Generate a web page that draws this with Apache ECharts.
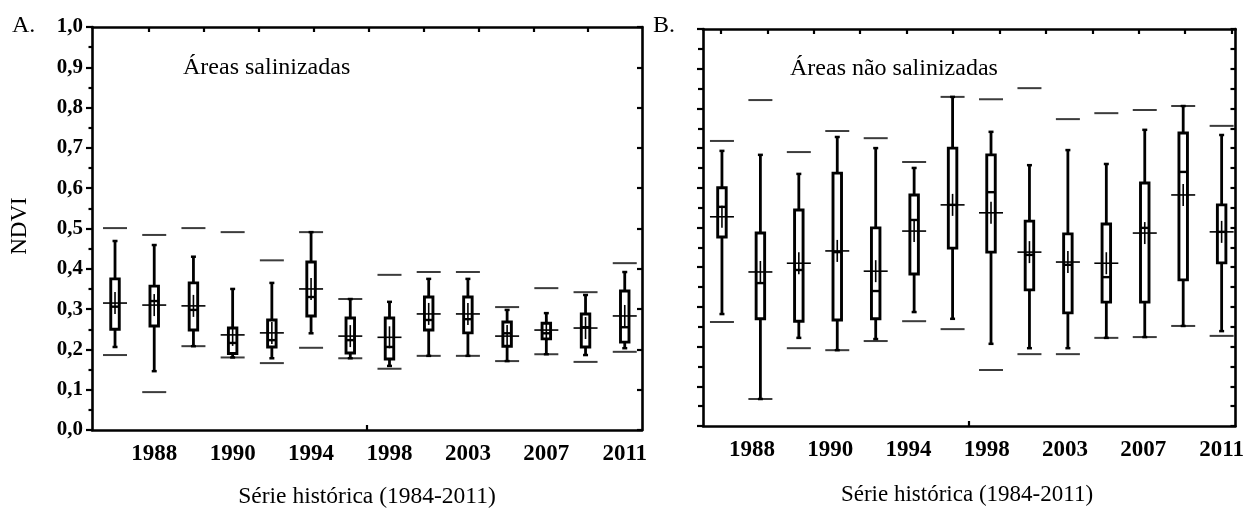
<!DOCTYPE html>
<html><head><meta charset="utf-8">
<script src="https://cdn.jsdelivr.net/npm/echarts@6/dist/echarts.min.js"></script>
<style>html,body{margin:0;padding:0;background:#fff}#c{width:1247px;height:509px}</style>
</head><body><div id="c"></div>
<script>
// Categories (years; only every other one is labelled in the figure)
const categories = ['1984','1988','1989','1990','1991','1994','1996','1998','2000','2003','2005','2007','2009','2011'];
const shownLabels = ['1988','1990','1994','1998','2003','2007','2011'];
const yTicks = [0,0.1,0.2,0.3,0.4,0.5,0.6,0.7,0.8,0.9,1.0];

// Panel A – Áreas salinizadas
const aMin   = [0.186,0.094,0.208,0.180,0.166,0.204,0.178,0.152,0.184,0.184,0.171,0.188,0.169,0.194];
const aLow   = [0.206,0.146,0.208,0.180,0.178,0.240,0.178,0.159,0.184,0.184,0.171,0.188,0.186,0.203];
const aQ1    = [0.250,0.258,0.248,0.190,0.206,0.283,0.191,0.176,0.248,0.241,0.208,0.226,0.206,0.218];
const aMed   = [0.306,0.320,0.298,0.216,0.223,0.330,0.223,0.206,0.273,0.275,0.240,0.240,0.255,0.255];
const aQ3    = [0.375,0.357,0.365,0.253,0.273,0.417,0.278,0.278,0.330,0.330,0.268,0.265,0.288,0.345];
const aHigh  = [0.469,0.459,0.430,0.350,0.365,0.491,0.325,0.318,0.375,0.375,0.298,0.290,0.335,0.392];
const aMax   = [0.501,0.484,0.501,0.491,0.421,0.491,0.325,0.385,0.392,0.392,0.305,0.352,0.342,0.414];
const aMean  = [0.315,0.310,0.308,0.236,0.241,0.350,0.233,0.230,0.288,0.288,0.233,0.248,0.253,0.283];

// Panel B – Áreas não salinizadas
const bMin   = [0.262,0.068,0.196,0.191,0.214,0.264,0.244,0.141,0.181,0.181,0.222,0.224,0.252,0.227];
const bLow   = [0.282,0.068,0.222,0.191,0.219,0.287,0.270,0.207,0.196,0.196,0.222,0.224,0.252,0.239];
const bQ1    = [0.476,0.270,0.264,0.267,0.270,0.383,0.448,0.438,0.343,0.285,0.312,0.312,0.368,0.411];
const bMed   = [0.552,0.360,0.393,0.438,0.340,0.519,0.557,0.589,0.431,0.406,0.375,0.499,0.640,0.489];
const bQ3    = [0.600,0.486,0.544,0.637,0.499,0.582,0.700,0.683,0.516,0.484,0.509,0.612,0.738,0.557];
const bHigh  = [0.693,0.683,0.635,0.728,0.700,0.650,0.829,0.741,0.657,0.695,0.660,0.746,0.806,0.733];
const bMax   = [0.718,0.821,0.690,0.743,0.725,0.665,0.829,0.823,0.851,0.773,0.788,0.796,0.806,0.756];
const bMean  = [0.527,0.388,0.410,0.441,0.390,0.491,0.557,0.537,0.438,0.413,0.410,0.486,0.582,0.489];

function rows(mn, lo, q1, md, q3, hi, mx, me) {
  return categories.map((c, i) => [i, mn[i], lo[i], q1[i], md[i], q3[i], hi[i], mx[i], me[i]]);
}

const SERIF = '"Liberation Serif","Times New Roman",serif';
const labelIdx = categories.map((c, i) => i).filter(i => shownLabels.includes(categories[i]));

function renderBox(params, api) {
  const i = api.value(0);
  const X = api.coord([i, 0])[0];
  const Y = k => api.coord([i, api.value(k)])[1];
  const yMin = Y(1), yLow = Y(2), yQ1 = Y(3), yMed = Y(4), yQ3 = Y(5), yHigh = Y(6), yMax = Y(7), yMean = Y(8);
  const bw = 8.5, dw = 12, mw = 12, mv = 11, cap = 2.5;
  const L = (x1, y1, x2, y2, w, c) => ({type: 'line', shape: {x1, y1, x2, y2}, style: {stroke: c || '#000', lineWidth: w}});
  return {
    type: 'group',
    children: [
      L(X - dw, yMax, X + dw, yMax, 2, '#3c3c3c'),
      L(X - dw, yMin, X + dw, yMin, 2, '#3c3c3c'),
      L(X, yQ3, X, yHigh, 2.8),
      L(X - cap, yHigh, X + cap, yHigh, 2.5),
      L(X, yQ1, X, yLow, 2.8),
      L(X - cap, yLow, X + cap, yLow, 2.5),
      {type: 'rect', shape: {x: X - bw / 2, y: yQ3, width: bw, height: yQ1 - yQ3},
       style: {fill: '#fff', stroke: '#000', lineWidth: 2.9}},
      L(X - bw / 2, yMed, X + bw / 2, yMed, 2.4),
      L(X - mw, yMean, X + mw, yMean, 1.6),
      L(X, yMean - mv, X, yMean + mv, 1.6)
    ]
  };
}

const axisLine = {show: true, onZero: false, lineStyle: {color: '#000', width: 2.6}};
const tickStyle = {color: '#000', width: 2.2};

// labelPos maps a category index to where its label sits on the axis (B's labels are evenly spread, slightly off the boxes)
function dataX(grid, min, max, labelPos) {
  const pos = labelIdx.map(labelPos);
  return {
    type: 'value', gridIndex: grid, min: min, max: max, position: 'bottom',
    axisLine: axisLine, splitLine: {show: false},
    axisTick: {show: true, inside: true, length: 5, lineStyle: tickStyle, customValues: [(min + max) / 2]},
    axisLabel: {show: true, customValues: pos, margin: 13,
      formatter: v => { const k = pos.findIndex(p => Math.abs(p - v) < 1e-6); return k >= 0 ? categories[labelIdx[k]] : ''; },
      fontFamily: SERIF, fontWeight: 'bold', fontSize: 23, color: '#000'}
  };
}
function topX(grid, offs) {
  return {
    type: 'value', gridIndex: grid, min: 0, max: 1, position: 'top',
    axisLine: axisLine, splitLine: {show: false}, axisLabel: {show: false},
    axisTick: {show: true, inside: true, length: 5, lineStyle: tickStyle, customValues: offs}
  };
}
function yAx(grid, pos, opts) {
  return Object.assign({
    type: 'value', gridIndex: grid, min: 0, max: 1, interval: 0.1, position: pos,
    axisLine: axisLine, splitLine: {show: false}
  }, opts);
}

const topA = [0,1,2,3,4,5,6,7,8].map(k => (57 + 54.9 * k) / 550);
const topB = [0,1,2,3,4,5,6,7,8,9,10,11].map(k => (18 + 46.55 * k) / 534);

const chart = echarts.init(document.getElementById('c'), null, {renderer: 'canvas'});
chart.setOption({
  animation: false,
  backgroundColor: '#fff',
  grid: [
    {left: 92, top: 27, width: 550, height: 403},
    {left: 703, top: 29, width: 534, height: 397}
  ],
  xAxis: [
    dataX(0, -0.587, 13.44, i => i),
    topX(0, topA),
    dataX(1, -0.493, 13.36, i => 0.78 + (i - 1) * 12.22 / 12),
    topX(1, topB)
  ],
  yAxis: [
    yAx(0, 'left', {
      axisTick: {show: true, inside: false, length: 6, lineStyle: tickStyle},
      minorTick: {show: true, splitNumber: 2, length: 3.5, lineStyle: tickStyle},
      axisLabel: {show: true, margin: 9, fontFamily: SERIF, fontWeight: 'bold', fontSize: 21, color: '#000',
        formatter: v => yTicks.includes(Math.round(v * 10) / 10) ? (Math.round(v * 10) / 10).toFixed(1).replace('.', ',') : ''}
    }),
    yAx(0, 'right', {
      axisTick: {show: true, inside: true, length: 5, lineStyle: tickStyle},
      axisLabel: {show: false}
    }),
    yAx(1, 'left', {
      axisTick: {show: true, inside: false, length: 6, lineStyle: tickStyle},
      minorTick: {show: true, splitNumber: 2, length: 5, lineStyle: tickStyle},
      axisLabel: {show: false}
    }),
    yAx(1, 'right', {
      axisTick: {show: true, inside: true, length: 5, lineStyle: tickStyle},
      minorTick: {show: true, splitNumber: 2, length: 5, lineStyle: tickStyle},
      axisLabel: {show: false}
    })
  ],
  graphic: [
    {type: 'text', left: 12, top: 14, style: {text: 'A.', font: '24px ' + SERIF, fill: '#000'}},
    {type: 'text', left: 653, top: 14, style: {text: 'B.', font: '24px ' + SERIF, fill: '#000'}},
    {type: 'text', left: 183, top: 56, style: {text: 'Áreas salinizadas', font: '24px ' + SERIF, fill: '#000'}},
    {type: 'text', left: 790, top: 57, style: {text: 'Áreas não salinizadas', font: '24px ' + SERIF, fill: '#000'}},
    {type: 'text', x: 20, y: 226, rotation: Math.PI / 2,
     style: {text: 'NDVI', font: '23px ' + SERIF, fill: '#000', align: 'center', verticalAlign: 'middle'}},
    {type: 'text', x: 367, y: 497,
     style: {text: 'Série histórica (1984-2011)', font: '23.5px ' + SERIF, fill: '#000', align: 'center', verticalAlign: 'middle'}},
    {type: 'text', x: 967, y: 495,
     style: {text: 'Série histórica (1984-2011)', font: '23px ' + SERIF, fill: '#000', align: 'center', verticalAlign: 'middle'}}
  ],
  series: [
    {type: 'custom', name: 'Áreas salinizadas', xAxisIndex: 0, yAxisIndex: 0,
     renderItem: renderBox, data: rows(aMin, aLow, aQ1, aMed, aQ3, aHigh, aMax, aMean),
     encode: {x: 0, y: [1, 7]}},
    {type: 'custom', name: 'Áreas não salinizadas', xAxisIndex: 2, yAxisIndex: 2,
     renderItem: renderBox, data: rows(bMin, bLow, bQ1, bMed, bQ3, bHigh, bMax, bMean),
     encode: {x: 0, y: [1, 7]}}
  ]
});
</script>
</body></html>
